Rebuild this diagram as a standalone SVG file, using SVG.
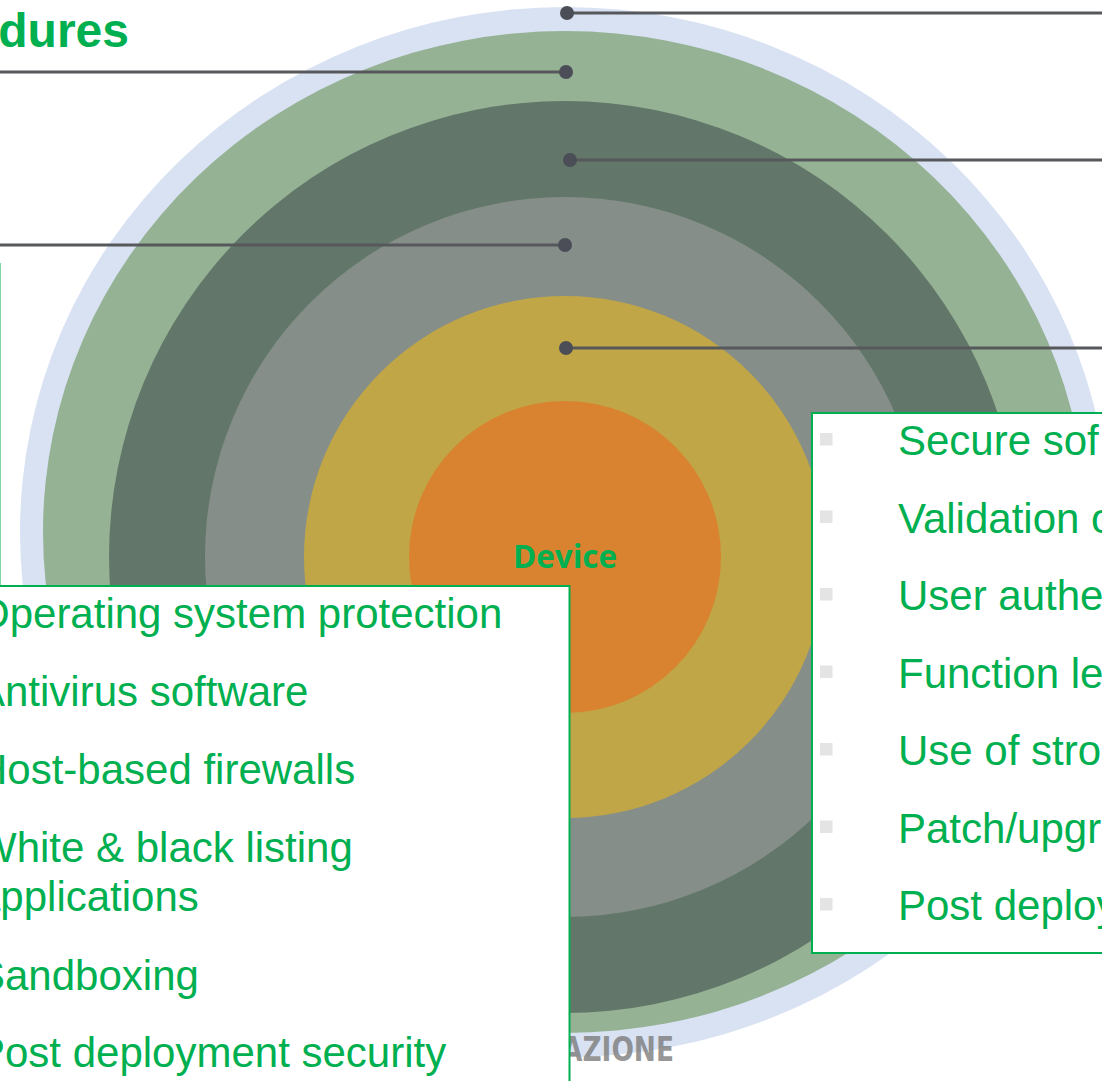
<svg xmlns="http://www.w3.org/2000/svg" width="1102" height="1081" viewBox="0 0 1102 1081">
<style>
.item{font-family:"Liberation Sans",Arial,sans-serif;font-size:42px;fill:#00b050}
.box{fill:#ffffff;stroke:#00b050;stroke-width:2}
.conn{stroke:#56585c;stroke-width:3;fill:none}
.dot{fill:#4b4e56}
.bul{fill:#e4e4e4}
</style>
<rect x="0" y="0" width="1102" height="1081" fill="#ffffff"/>
<g id="rings">
<ellipse id="ring-outer" cx="565" cy="532" rx="545" ry="525" fill="#d9e2f3"/>
<ellipse id="ring-sage" cx="565" cy="532" rx="522" ry="501" fill="#95b295"/>
<circle id="ring-dark" cx="565" cy="557" r="456" fill="#627769"/>
<circle id="ring-gray" cx="565" cy="557" r="360" fill="#858e89"/>
<circle id="ring-gold" cx="565" cy="557" r="261" fill="#c0a646"/>
<circle id="ring-device" cx="565" cy="557" r="156" fill="#d9822f"/>
</g>
<g id="device-label">
<text x="565" y="568" text-anchor="middle" font-family="'Open Sans','DejaVu Sans',sans-serif" font-weight="bold" font-size="32" fill="#00b050" textLength="104" lengthAdjust="spacingAndGlyphs">Device</text>
</g>
<g id="watermark">
<text x="562" y="1061" font-family="'DejaVu Sans Condensed','DejaVu Sans',sans-serif" font-weight="bold" font-size="34" fill="#7a7a7a" fill-opacity="0.8" textLength="112" lengthAdjust="spacingAndGlyphs">AZIONE</text>
</g>
<g id="title">
<text x="129" y="47" text-anchor="end" font-family="'Liberation Sans',Arial,sans-serif" font-weight="bold" font-size="48" fill="#00b050">dures</text>
</g>
<g id="connectors">
<line class="conn" x1="567" y1="13" x2="1102" y2="13"/>
<circle class="dot" cx="567" cy="13" r="7"/>
<line class="conn" x1="0" y1="72" x2="566" y2="72"/>
<circle class="dot" cx="566" cy="72" r="7"/>
<line class="conn" x1="570" y1="160" x2="1102" y2="160"/>
<circle class="dot" cx="570" cy="160" r="7"/>
<line class="conn" x1="0" y1="245" x2="565" y2="245"/>
<circle class="dot" cx="565" cy="245" r="7"/>
<line class="conn" x1="566" y1="348" x2="1102" y2="348"/>
<circle class="dot" cx="566" cy="348" r="7"/>
</g>
<g id="left-edge-box">
<line x1="0.5" y1="263" x2="0.5" y2="586" stroke="#00b050" stroke-opacity="0.5" stroke-width="1"/>
</g>
<g id="left-box">
<rect class="box" x="-30" y="586" width="599.5" height="600"/>
<text class="item" x="-23" y="628">Operating system protection</text>
<text class="item" x="-23" y="706">Antivirus software</text>
<text class="item" x="-23" y="784">Host-based firewalls</text>
<text class="item" x="-23" y="862">White &amp; black listing</text>
<text class="item" x="-23" y="911">applications</text>
<text class="item" x="-23" y="990">Sandboxing</text>
<text class="item" x="-23" y="1067">Post deployment security</text>
</g>
<g id="right-box">
<rect class="box" x="812" y="413" width="400" height="540"/>
<rect class="bul" x="820" y="433" width="12.5" height="12.5"/>
<rect class="bul" x="820" y="510.5" width="12.5" height="12.5"/>
<rect class="bul" x="820" y="588" width="12.5" height="12.5"/>
<rect class="bul" x="820" y="665.5" width="12.5" height="12.5"/>
<rect class="bul" x="820" y="743" width="12.5" height="12.5"/>
<rect class="bul" x="820" y="820.5" width="12.5" height="12.5"/>
<rect class="bul" x="820" y="898" width="12.5" height="12.5"/>
<text class="item" x="898" y="455">Secure sof</text>
<text class="item" x="898" y="532.5">Validation o</text>
<text class="item" x="898" y="610">User authe</text>
<text class="item" x="898" y="687.5">Function le</text>
<text class="item" x="898" y="765">Use of stro</text>
<text class="item" x="898" y="842.5">Patch/upgr</text>
<text class="item" x="898" y="920">Post deploy</text>
</g>
</svg>
